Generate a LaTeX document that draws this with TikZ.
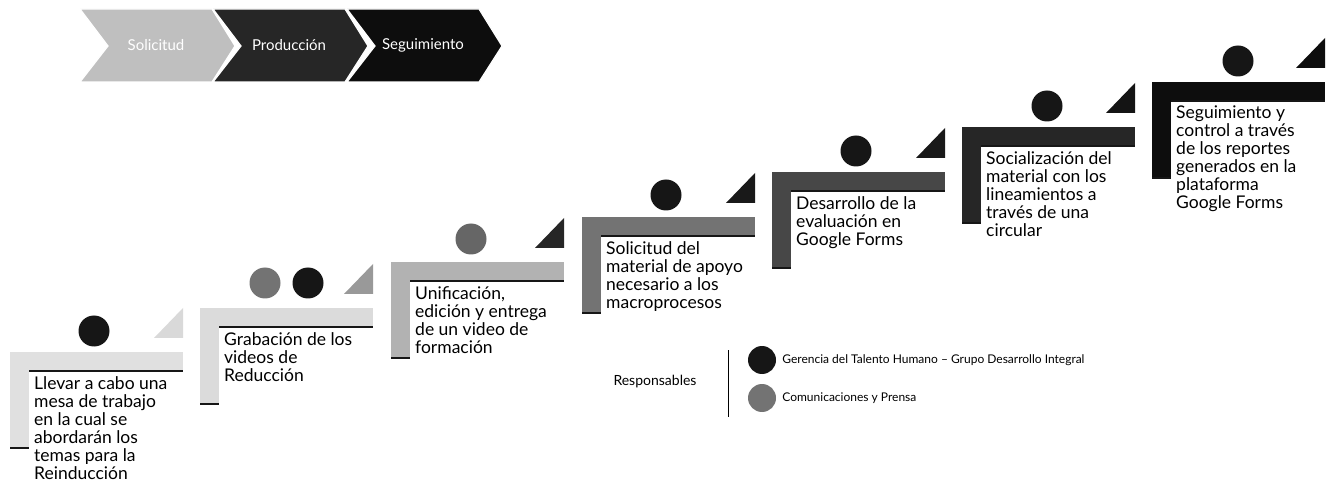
\documentclass[tikz,border=0pt]{standalone}
\usepackage{fontspec}
\setmainfont{Lato}
\usepackage{tikz}
\usetikzlibrary{positioning}
\tikzstyle{sheet} = [x = 1pt, y = -1pt]
\definecolor{inkColor}{RGB}{22,22,22}
\tikzstyle{chevronStyle} = [draw=white, line width=1.2pt, line join=miter]
\tikzstyle{chevronText} = [font=\fontsize{15}{17}\selectfont, text=white]
\tikzstyle{stepText} = [font=\fontsize{17.5}{18}\selectfont, anchor=north west, align=left, inner sep=0pt]
\tikzstyle{edgeLine} = [color=inkColor, line width=1.5pt]
\tikzstyle{personStyle} = [circle, inner sep=0pt, minimum size=31pt]
\tikzstyle{legendText} = [font=\fontsize{12}{14}\selectfont, anchor=west, inner sep=0pt]
\newcommand{\barWidth}{173}
\newcommand{\barHeight}{19}
\newcommand{\legLength}{96}
\newcommand{\chevron}[4]{\fill [chevronStyle, fill=#3] (#1, 9) -- + (132, 0) -- + (155, 37) -- + (132, 73) -- + (0, 73) -- + (28, 37) -- cycle;
  \node [chevronText] (#4) at (#1 + 76, 45) {#2};}
\newcommand{\stepBracket}[4]{
  \fill [black!#3] (#1, #2) rectangle + (\barWidth, \barHeight);
  \fill [black!#3] (#1, #2) rectangle + (\barHeight, \legLength);
  \draw [edgeLine] (#1 + \barHeight, #2 + \barHeight) -- + (\barWidth - \barHeight, 0);
  \draw [edgeLine] (#1, #2 + \legLength) -- + (\barHeight, 0);
  \fill [black!#4] (#1 + \barWidth, #2 - 14) -- + (-29, 0) -- + (0, -30) -- cycle;
}
\newcommand{\stepLabel}[4]{\node [stepText] (#3) at (#1 + 24, #2 + 24) {#4};}
\newcommand{\person}[4]{\node [personStyle, fill=#3] (#4) at (#1, #2) {};}

\begin{document}
\begin{tikzpicture}[sheet]
  \useasboundingbox (0, 0) rectangle (1328, 486);

  \chevron{80}{Solicitud}{black!25}{solicitud}
  \chevron{213}{Producción}{black!85}{produccion}
  \chevron{347}{Seguimiento}{black!95}{seguimiento}

  \stepBracket{10}{352}{12}{15}
  \person{94}{331}{inkColor}{gerenciaA}
  \stepLabel{10}{352}{mesa}{Llevar a cabo una\\mesa de trabajo\\en la cual se\\abordarán los\\temas para la\\Reinducción}

  \stepBracket{200}{308}{14}{40}
  \person{265}{283}{black!55}{prensaB}
  \person{308}{283}{inkColor}{gerenciaB}
  \stepLabel{200}{308}{grabacion}{Grabación de los\\videos de\\Reducción}

  \stepBracket{391}{262}{30}{85}
  \person{471}{239}{black!60}{prensaC}
  \stepLabel{391}{262}{unificacion}{Unificación,\\edición y entrega\\de un video de\\formación}

  \stepBracket{582}{217}{55}{90}
  \person{666}{195}{inkColor}{gerenciaD}
  \stepLabel{582}{217}{material}{Solicitud del\\material de apoyo\\necesario a los\\macroprocesos}

  \stepBracket{772}{172}{72}{90}
  \person{856}{151}{inkColor}{gerenciaE}
  \stepLabel{772}{172}{evaluacion}{Desarrollo de la\\evaluación en\\Google Forms}

  \stepBracket{962}{127}{85}{92}
  \person{1047}{106}{inkColor}{gerenciaF}
  \stepLabel{962}{127}{socializacion}{Socialización del\\material con los\\lineamientos a\\través de una\\circular}

  \stepBracket{1152}{82}{95}{95}
  \person{1238}{61}{inkColor}{gerenciaG}
  \stepLabel{1152}{82}{control}{Seguimiento y\\control a través\\de los reportes\\generados en la\\plataforma\\Google Forms}

  % responsables
  \node [font=\fontsize{14}{16}\selectfont] (responsables) at (655, 382) {Responsables};
  \coordinate (sepTop) at (728, 350);
  \coordinate (sepBottom) at (728, 417);
  \draw [thin] (sepTop) -- (sepBottom);
  \node [personStyle, minimum size=28pt, fill=inkColor] (legendGerencia) at (762, 360) {};
  \node [legendText, right = 6pt of legendGerencia] (gerenciaText) {Gerencia del Talento Humano – Grupo Desarrollo Integral};
  \node [personStyle, minimum size=28pt, fill=black!55] (legendPrensa) at (762, 398) {};
  \node [legendText, right = 6pt of legendPrensa] (prensaText) {Comunicaciones y Prensa};
\end{tikzpicture}
\end{document}
